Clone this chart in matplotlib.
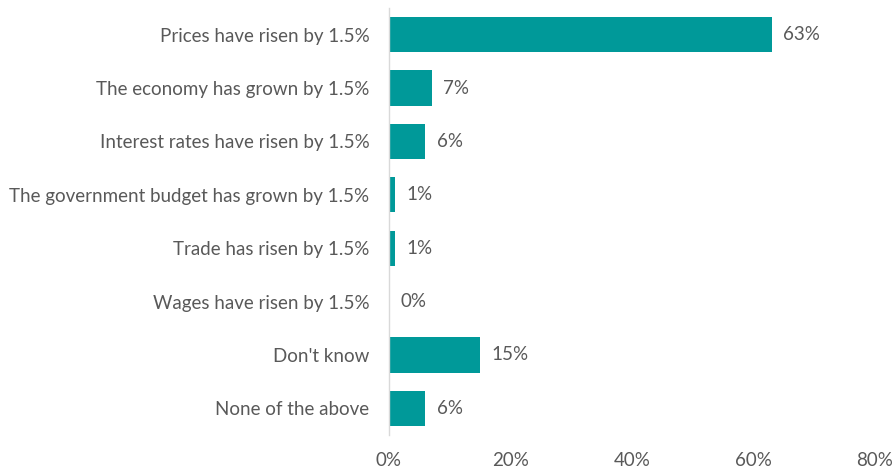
import matplotlib
matplotlib.use("Agg")
import matplotlib.pyplot as plt

categories = [
    "Prices have risen by 1.5%",
    "The economy has grown by 1.5%",
    "Interest rates have risen by 1.5%",
    "The government budget has grown by 1.5%",
    "Trade has risen by 1.5%",
    "Wages have risen by 1.5%",
    "Don't know",
    "None of the above",
]
values = [63, 7, 6, 1, 1, 0, 15, 6]
xticks = [0, 20, 40, 60, 80]
xtick_labels = ["0%", "20%", "40%", "60%", "80%"]

plt.rcParams['font.family'] = ['Lato', 'DejaVu Sans']
TXT = "#595959"
BAR = "#009999"
FS = 13.5

fig = plt.figure(figsize=(8.94, 4.70), dpi=100)
ax = fig.add_axes([389 / 894, 1 - 435 / 470, (875 - 389) / 894, (435 - 8) / 470])

y = list(range(len(categories)))
ax.barh(y, values, height=0.66, color=BAR)
ax.set_ylim(len(categories) - 0.5, -0.5)
ax.set_xlim(0, 80)
ax.set_yticks(y)
ax.set_yticklabels(categories, fontsize=FS, color=TXT)
ax.set_xticks(xticks)
ax.set_xticklabels(xtick_labels, fontsize=FS, color=TXT)
ax.tick_params(axis='both', length=0)
ax.tick_params(axis='y', pad=14)
ax.tick_params(axis='x', pad=12)
for s in ["top", "right", "bottom"]:
    ax.spines[s].set_visible(False)
ax.spines["left"].set_color("#D9D9D9")
ax.spines["left"].set_linewidth(1.0)

for yi, v in zip(y, values):
    ax.annotate(f"{v}%", xy=(v, yi), xytext=(8, 0), textcoords="offset points",
                va="center", ha="left", fontsize=FS, color=TXT)

fig.savefig("out.png", dpi=100)
